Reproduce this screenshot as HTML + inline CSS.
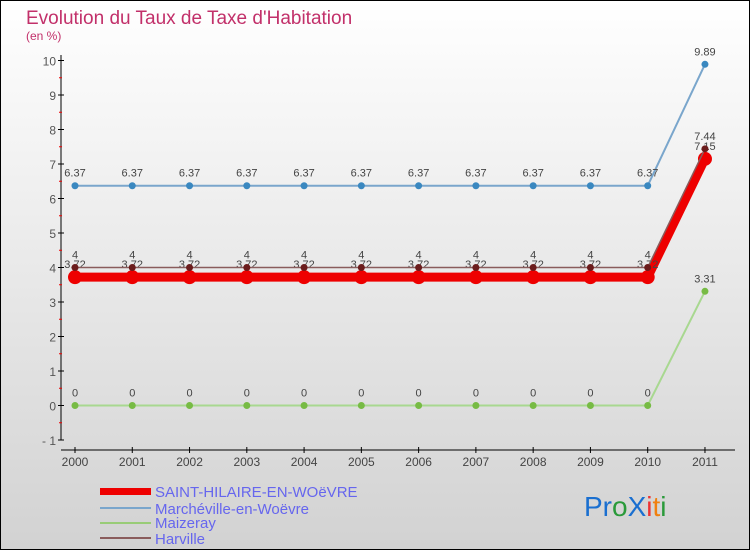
<!DOCTYPE html>
<html><head><meta charset="utf-8"><style>
body{margin:0}
#c{width:750px;height:550px;position:relative;overflow:hidden}
svg text{font-family:"Liberation Sans",sans-serif}
</style></head><body>
<div id="c">
<svg id="s" width="750" height="550" xmlns="http://www.w3.org/2000/svg">
<defs><linearGradient id="bg" x1="0" y1="0" x2="0" y2="1"><stop offset="0" stop-color="#ffffff"/><stop offset="1" stop-color="#d2d2d2"/></linearGradient></defs>
<rect x="0.5" y="0.5" width="749" height="549" fill="url(#bg)" stroke="#000"/>
<text x="26" y="24" font-size="19" fill="#c2306a">Evolution du Taux de Taxe d'Habitation</text>
<text x="26" y="40" font-size="12" fill="#c2306a">(en %)</text>
<g id="axes"></g><g id="series"></g>
<g>
<rect x="100" y="488" width="51" height="7" fill="#e00"/>
<text x="155" y="497" font-size="15" fill="#6666ee">SAINT-HILAIRE-EN-WOëVRE</text>
<line x1="100" y1="508" x2="151" y2="508" stroke="#7aa6cc" stroke-width="2"/>
<text x="155" y="514" font-size="15" fill="#6666ee">Marchéville-en-Woëvre</text>
<line x1="100" y1="523" x2="151" y2="523" stroke="#99cc77" stroke-width="2"/>
<text x="155" y="528" font-size="15" fill="#6666ee">Maizeray</text>
<line x1="100" y1="538" x2="151" y2="538" stroke="#8a5c5c" stroke-width="2"/>
<text x="155" y="544" font-size="15" fill="#6666ee">Harville</text>
</g>
<text x="584" y="516" font-size="28"><tspan fill="#1a6fd0">Pr</tspan><tspan fill="#2a9a3a">o</tspan><tspan fill="#1a6fd0">X</tspan><tspan fill="#e33">i</tspan><tspan fill="#f08010">t</tspan><tspan fill="#2a9a3a">i</tspan></text>
</svg></div>
<script>
const years=["2000","2001","2002","2003","2004","2005","2006","2007","2008","2009","2010","2011"];
const yTicks=[-1,0,1,2,3,4,5,6,7,8,9,10];
const saint=[3.72,3.72,3.72,3.72,3.72,3.72,3.72,3.72,3.72,3.72,3.72,7.15];
const march=[6.37,6.37,6.37,6.37,6.37,6.37,6.37,6.37,6.37,6.37,6.37,9.89];
const maiz=[0,0,0,0,0,0,0,0,0,0,0,3.31];
const harv=[4,4,4,4,4,4,4,4,4,4,4,7.44];
const NS="http://www.w3.org/2000/svg";
const X=i=>75+i*57.27, Y=v=>405.5-v*34.5;
function mk(t,a,p){const e=document.createElementNS(NS,t);for(const k in a)e.setAttribute(k,a[k]);p.appendChild(e);return e;}
const ax=document.getElementById('axes'), sg=document.getElementById('series');
let l=mk('line',{x1:61,y1:55,x2:61,y2:440,stroke:'#000'},ax);


l=mk('line',{x1:61,y1:450,x2:735,y2:450,stroke:'#000'},ax);


yTicks.forEach(v=>{mk('line',{x1:58,y1:Y(v),x2:64,y2:Y(v),stroke:'#000'},ax);
 if(v<10)mk('line',{x1:59,y1:Y(v+0.5),x2:62,y2:Y(v+0.5),stroke:'#e00'},ax);
 const t=mk('text',{x:56,y:Y(v)+5,'font-size':12,fill:'#555','text-anchor':'end'},ax);t.textContent=v<0?'- 1':v;
 
 });
years.forEach((y,i)=>{mk('line',{x1:X(i),y1:447,x2:X(i),y2:453,stroke:'#000'},ax);
 const t=mk('text',{x:X(i),y:466,'font-size':12,fill:'#444','text-anchor':'middle'},ax);t.textContent=y;
 
 });
function series(d,col,w,r,name,fc,lbl){
 const g=mk('g',{},sg);
 
 
 mk('polyline',{points:d.map((v,i)=>X(i)+','+Y(v)).join(' '),fill:'none',stroke:col,'stroke-width':w},g);
 d.forEach((v,i)=>{const c=mk('circle',{cx:X(i),cy:Y(v),r:r,fill:fc},g);
  
  
  if(lbl){const t=mk('text',{x:X(i),y:Y(v)-9,'font-size':11,fill:'#444','text-anchor':'middle'},g);t.textContent=v;}});
}
series(maiz,'#a8d890',2,3.5,'maizeray','#77bb44',true);
series(march,'#7aa6cc',2,3.5,'marcheville','#3a88c0',true);
series(saint,'#ee0000',9,7,'saint-hilaire','#ee0000',true);
series(harv,'#8a5c5c',1.5,3.5,'harville','#6b1c1c',true);
</script>
</body></html>
